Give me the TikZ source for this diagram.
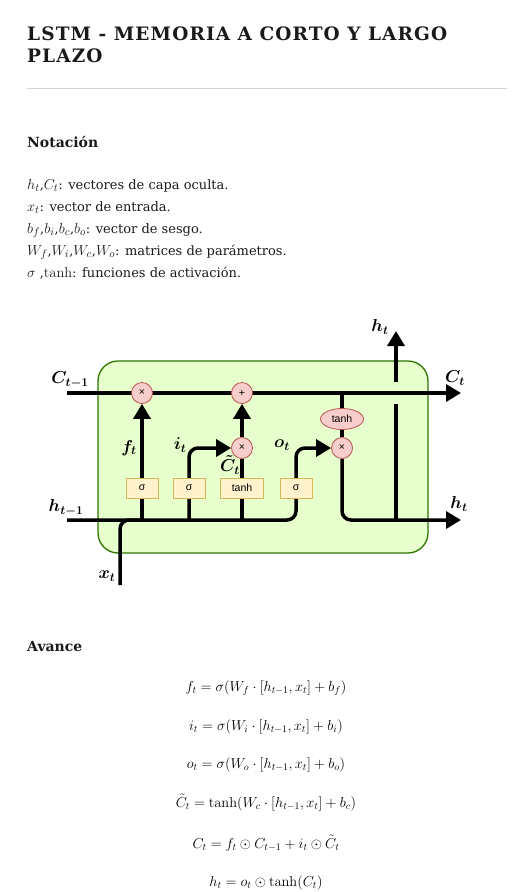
\documentclass[tikz,border=0pt]{standalone}
\usepackage{amsmath}
\usepackage[no-math]{fontspec}
\setmainfont{DejaVu Serif}
\newfontfamily\titlefont[LetterSpace=6]{DejaVu Serif}
\newfontfamily\gatefont{Liberation Sans}
\usetikzlibrary{arrows.meta,positioning,shapes.geometric,backgrounds}
\definecolor{Ink}{HTML}{1A1A1A}
\definecolor{Rule}{HTML}{D4D4D4}
\definecolor{CellFill}{HTML}{E6FFCC}
\definecolor{CellLine}{HTML}{2D7600}
\definecolor{GateFill}{HTML}{FFF2CC}
\definecolor{GateLine}{HTML}{D6B656}
\definecolor{OpFill}{HTML}{F8CECC}
\definecolor{OpLine}{HTML}{B85450}
\newcommand{\nmath}[1]{{\fontsize{15.5}{15}\selectfont$#1$}}
\tikzset{
  >={Triangle[length=15pt,width=17pt]},
  title/.style={anchor=base west,inner sep=0pt,text=Ink,font=\titlefont\bfseries\fontsize{18.5}{22}\selectfont},
  heading/.style={anchor=base west,inner sep=0pt,text=Ink,font=\bfseries\fontsize{14}{16}\selectfont},
  notaline/.style={anchor=base west,inner sep=0pt,text=Ink,font=\fontsize{13}{15}\selectfont},
  eqline/.style={anchor=base,inner sep=0pt,font=\fontsize{14.5}{17}\selectfont},
  cell/.style={rectangle,rounded corners=20pt,draw=CellLine,fill=CellFill,line width=1.3pt,minimum width=330pt,minimum height=192pt},
  wire/.style={line width=3.5pt,draw=black},
  flow/.style={wire,->},
  gate/.style={rectangle,draw=GateLine,fill=GateFill,line width=.8pt,minimum height=20pt,minimum width=32pt,inner sep=1pt,font=\gatefont\fontsize{10.5}{12}\selectfont},
  op/.style={circle,draw=OpLine,fill=OpFill,line width=.8pt,minimum size=21pt,inner sep=0pt,font=\gatefont\fontsize{10.5}{12}\selectfont},
  opwide/.style={ellipse,draw=OpLine,fill=OpFill,line width=.8pt,minimum width=43pt,minimum height=21pt,inner sep=0pt,font=\gatefont\fontsize{10.5}{12}\selectfont},
  sig/.style={inner sep=0pt,font=\boldmath\fontsize{18}{20}\selectfont}
}

\begin{document}
\begin{tikzpicture}[x=1pt,y=-1pt]
  \useasboundingbox (0,0) rectangle (517,892);

  % cabecera
  \node[title] (ttl1) at (27,40) {LSTM - MEMORIA A CORTO Y LARGO};
  \node[title] (ttl2) at (27,62) {PLAZO};
  \draw[Rule,line width=1pt] (27,88) -- (507,88);

  % notacion
  \node[heading] (hnot) at (27,147) {Notación};
  \node[notaline] (n1) at (27,189) {\nmath{h_t},\nmath{C_t}: vectores de capa oculta.};
  \node[notaline] (n2) at (27,211) {\nmath{x_t}: vector de entrada.};
  \node[notaline] (n3) at (27,233) {\nmath{b_f},\nmath{b_i},\nmath{b_c},\nmath{b_o}: vector de sesgo.};
  \node[notaline] (n4) at (27,255) {\nmath{W_f},\nmath{W_i},\nmath{W_c},\nmath{W_o}: matrices de parámetros.};
  \node[notaline] (n5) at (27,277) {\nmath{\sigma} ,\nmath{\tanh}: funciones de activación.};

  % celda
  \node[op] (fmul) at (142,393) {×};
  \node[op] (add) at (242,393) {+};
  \node[op] (imul) at (242,448) {×};
  \node[op] (omul) at (342,448) {×};
  \node[opwide] (ctanh) at (342,419) {tanh};
  \node[gate] (fgate) at (142,488) {σ};
  \node[gate] (igate) at (189,488) {σ};
  \node[gate,minimum width=43pt] (cgate) at (242,488) {tanh};
  \node[gate] (ogate) at (296,488) {σ};

  \coordinate (cin) at (67,393);
  \coordinate (cout) at (461,393);
  \coordinate (hin) at (67,520);
  \coordinate (hout) at (461,520);
  \coordinate (xin) at (120,585);
  \coordinate (xjoin) at (142,520);
  \coordinate (fbase) at (142,520);
  \coordinate (ibase) at (189,520);
  \coordinate (cbase) at (242,520);
  \coordinate (ocorner) at (296,448);
  \coordinate (ctap) at (342,393);
  \coordinate (hbase) at (396,520);
  \coordinate (hgapb) at (396,404);
  \coordinate (hgapt) at (396,382);
  \coordinate (hup) at (396,331);

  \begin{scope}[on background layer]
    \node[cell] (cellbox) at (263,457) {};
    \draw[flow] (cin) -- (cout);
    \draw[wire,rounded corners=9pt] (xin) |- (xjoin);
    \draw[flow,rounded corners=9pt] (hin) -| (ocorner) -- (omul.west);
    \draw[flow] (fbase) -- (fmul.south);
    \draw[flow,rounded corners=9pt] (ibase) |- (imul.west);
    \draw[wire] (cbase) -- (imul.south);
    \draw[flow] (imul.north) -- (add.south);
    \draw[wire] (ctap) -- (omul.north);
    \draw[flow,rounded corners=9pt] (omul.south) |- (hout);
    \draw[wire] (hbase) -- (hgapb);
    \draw[flow] (hgapt) -- (hup);
  \end{scope}

  \node[sig] (lcin) at (70,380) {$C_{t-1}$};
  \node[sig] (lhin) at (66,508) {$h_{t-1}$};
  \node[sig] (lx) at (107,576) {$x_t$};
  \node[sig] (lf) at (129,448) {$f_t$};
  \node[sig] (li) at (180,445) {$i_t$};
  \node[sig] (lc) at (230,465) {$\tilde{C}_t$};
  \node[sig] (lo) at (282,445) {$o_t$};
  \node[sig] (lhup) at (380,327) {$h_t$};
  \node[sig] (lcout) at (455,378) {$C_t$};
  \node[sig] (lhout) at (459,504) {$h_t$};

  % ecuaciones
  \node[heading] (hav) at (27,651) {Avance};
  \node[eqline] (eqf) at (266,691) {$f_t=\sigma(W_f\cdot[h_{t-1},x_t]+b_f)$};
  \node[eqline] (eqi) at (266,730) {$i_t=\sigma(W_i\cdot[h_{t-1},x_t]+b_i)$};
  \node[eqline] (eqo) at (266,768) {$o_t=\sigma(W_o\cdot[h_{t-1},x_t]+b_o)$};
  \node[eqline] (eqc) at (266,807) {$\tilde{C}_t=\tanh(W_c\cdot[h_{t-1},x_t]+b_c)$};
  \node[eqline] (eqcell) at (266,848) {$C_t=f_t\odot C_{t-1}+i_t\odot\tilde{C}_t$};
  \node[eqline] (eqh) at (266,886) {$h_t=o_t\odot\tanh(C_t)$};
\end{tikzpicture}
\end{document}
